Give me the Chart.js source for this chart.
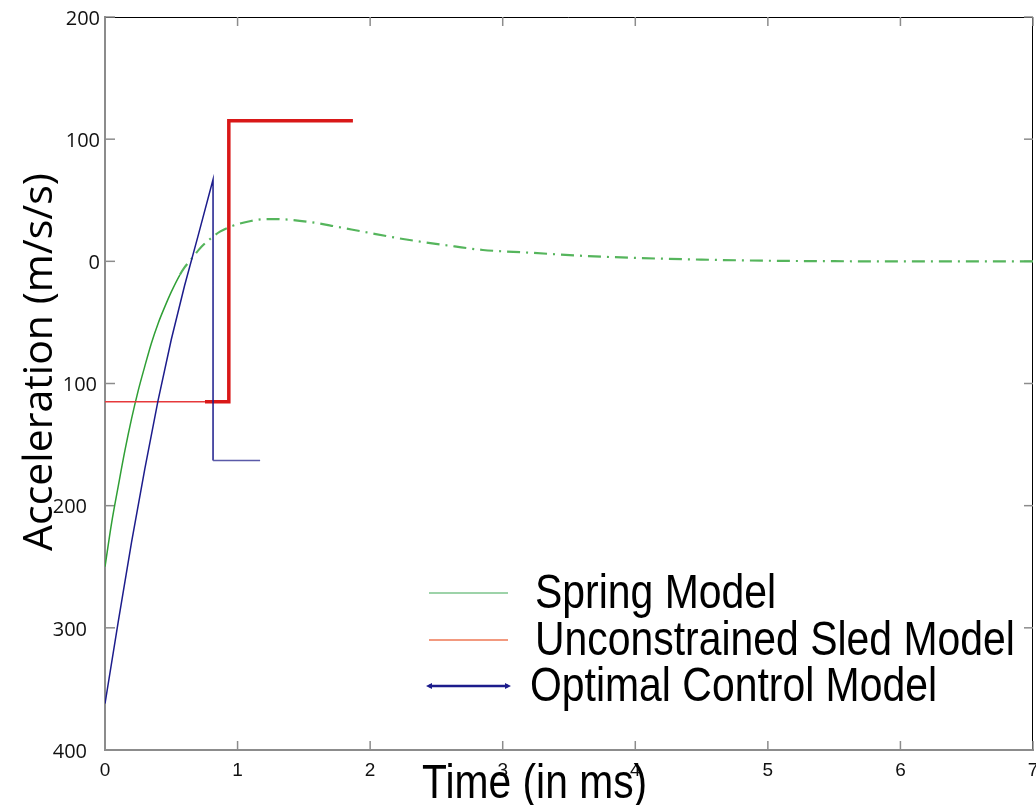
<!DOCTYPE html>
<html>
<head>
<meta charset="utf-8">
<script src="https://cdn.jsdelivr.net/npm/chart.js@4.4.0/dist/chart.umd.min.js"></script>
<style>
  html, body { margin: 0; padding: 0; background: #fff; }
  #wrap { width: 1036px; height: 805px; }
</style>
</head>
<body>
<div id="wrap"><canvas id="accelChart" width="1036" height="805"></canvas></div>
<script>
// === Data ===
const seriesLabels = ["Spring Model", "Unconstrained Sled Model", "Optimal Control Model"];

const springTime = [0, 0.05, 0.1, 0.15, 0.2, 0.25, 0.3, 0.35, 0.4, 0.45, 0.5, 0.565, 0.6, 0.666, 0.71, 0.754, 0.867, 0.96, 1.1, 1.22, 1.34, 1.557, 1.745, 1.946, 2.248, 2.65, 2.85, 3.2, 3.6, 4.0, 4.5, 5.0, 5.5, 6.0, 7.0];
const springAccel = [-250, -214, -184, -155, -129, -106, -86, -67, -51, -37.5, -25, -11, -5, 3.8, 9.8, 14.7, 24.3, 28.9, 33, 34.6, 34.4, 32, 28.4, 24.3, 18.3, 12, 9.3, 7.1, 4.5, 2.8, 1.4, 0.5, 0.1, 0, 0];

const sledTime = [0, 0.754, 0.934, 0.934, 1.87];
const sledAccel = [-115, -115, -115, 115, 115];

const optimalTime = [0, 0.1, 0.2, 0.3, 0.4, 0.5, 0.6, 0.7, 0.815, 0.815, 1.17];
const optimalAccel = [-362, -295, -230, -170, -114, -64, -20, 20, 67, -163, -163];

const xTicks = [0, 1, 2, 3, 4, 5, 6, 7];
const xTickLabels = ["0", "1", "2", "3", "4", "5", "6", "7"];
const yTicks = [200, 100, 0, -100, -200, -300, -400];
const yTickLabels = ["200", "100", "0", "100", "200", "300", "400"];

const toPoints = (xs, ys) => xs.map((t, i) => ({ x: t, y: ys[i] }));

// === Frame, inward ticks, tick labels ===
const framePlugin = {
  id: "frame",
  beforeDatasetsDraw(chart) {
    const { ctx, chartArea: a, scales } = chart;
    const line = (x1, y1, x2, y2) => {
      ctx.beginPath();
      ctx.moveTo(x1, y1);
      ctx.lineTo(x2, y2);
      ctx.stroke();
    };
    ctx.save();
    ctx.strokeStyle = "#000";
    ctx.lineWidth = 1;
    line(a.left, a.top + 0.5, a.right - 0.5, a.top + 0.5);
    line(a.right - 0.5, a.top, a.right - 0.5, a.bottom);

    ctx.strokeStyle = "#8c8c8c";
    ctx.lineWidth = 1.5;
    xTicks.forEach((v) => {
      const px = scales.x.getPixelForValue(v);
      line(px, a.bottom, px, a.bottom - 9);
      line(px, a.top, px, a.top + 9);
    });
    yTicks.forEach((v) => {
      const py = scales.y.getPixelForValue(v);
      line(a.left, py, a.left + 10, py);
      line(a.right, py, a.right - 9, py);
    });

    // y tick labels (minus signs are missing in the original)
    const labelRight = [100, 100, 100, 97, 87, 87, 87];
    ctx.fillStyle = "#111";
    ctx.font = '20px "Open Sans"';
    ctx.textAlign = "right";
    ctx.textBaseline = "middle";
    yTicks.forEach((v, i) => {
      ctx.fillText(yTickLabels[i], labelRight[i], scales.y.getPixelForValue(v) + 2);
    });

    // x tick labels
    ctx.font = '19px "Liberation Sans"';
    ctx.textAlign = "center";
    xTicks.forEach((v, i) => {
      ctx.fillText(xTickLabels[i], scales.x.getPixelForValue(v), a.bottom + 21);
    });
    ctx.restore();
  },
  afterDraw(chart) {
    const { ctx } = chart;
    ctx.save();
    ctx.fillStyle = "#000";

    // y axis title
    ctx.save();
    ctx.translate(52, 362);
    ctx.rotate(-Math.PI / 2);
    ctx.font = '41px "Open Sans"';
    ctx.textAlign = "center";
    ctx.textBaseline = "alphabetic";
    ctx.fillText("Acceleration (m/s/s)", 0, 0);
    ctx.restore();

    // x axis title (condensed face)
    ctx.save();
    ctx.translate(422, 798);
    ctx.scale(0.85, 1);
    ctx.font = '48px "Liberation Sans"';
    ctx.textAlign = "left";
    ctx.textBaseline = "alphabetic";
    ctx.fillText("Time (in ms)", 0, 0);
    ctx.restore();

    // legend inside plot
    const legendY = [593, 640, 686];
    const legendColor = ["#7cc48c", "#ee7755", "#1c1c8c"];
    const legendWidth = [1.5, 1.5, 2.5];
    const textX = [535, 535, 530];
    chart.data.datasets.forEach((ds, i) => {
      const y = legendY[i];
      ctx.strokeStyle = legendColor[i];
      ctx.lineWidth = legendWidth[i];
      ctx.beginPath();
      ctx.moveTo(429, y);
      ctx.lineTo(508, y);
      ctx.stroke();
      if (i === 2) {
        ctx.fillStyle = legendColor[i];
        ctx.beginPath();
        ctx.moveTo(426, y); ctx.lineTo(432, y - 3); ctx.lineTo(432, y + 3); ctx.closePath();
        ctx.moveTo(511, y); ctx.lineTo(505, y - 3); ctx.lineTo(505, y + 3); ctx.closePath();
        ctx.fill();
      }
      ctx.save();
      ctx.fillStyle = "#000";
      ctx.translate(textX[i], y + 15);
      ctx.scale(0.835, 1);
      ctx.font = '49px "Liberation Sans"';
      ctx.textBaseline = "alphabetic";
      ctx.fillText(ds.label, 0, 0);
      ctx.restore();
    });
    ctx.restore();
  },
};

// === Chart ===
new Chart(document.getElementById("accelChart"), {
  type: "scatter",
  data: {
    datasets: [
      {
        label: seriesLabels[0],
        data: toPoints(springTime, springAccel),
        showLine: true,
        cubicInterpolationMode: "monotone",
        borderColor: "#2f9f35",
        borderWidth: 1.5,
        pointRadius: 0,
        order: 2,
        segment: {
          borderDash: (c) => (c.p0.parsed.x >= 0.56 ? [13, 6, 2, 6] : undefined),
          borderColor: (c) => (c.p0.parsed.x >= 0.56 ? "#55b55c" : undefined),
          borderWidth: (c) => (c.p0.parsed.x >= 0.56 ? 2.2 : undefined),
        },
      },
      {
        label: seriesLabels[1],
        data: toPoints(sledTime, sledAccel),
        showLine: true,
        borderColor: "#e6393b",
        borderWidth: 1.5,
        pointRadius: 0,
        order: 1,
        segment: {
          borderWidth: (c) => (c.p0.parsed.x >= 0.7 ? 3.5 : undefined),
          borderColor: (c) => (c.p0.parsed.x >= 0.7 ? "#d91818" : undefined),
        },
      },
      {
        label: seriesLabels[2],
        data: toPoints(optimalTime, optimalAccel),
        showLine: true,
        borderColor: "#1c1c8c",
        borderWidth: 1.5,
        pointRadius: 0,
        order: 0,
        segment: {
          borderColor: (c) =>
            c.p0.parsed.y === c.p1.parsed.y ? "#5a5aa8" : undefined,
        },
      },
    ],
  },
  options: {
    responsive: false,
    animation: false,
    layout: { padding: { top: 17, right: 3, left: 0, bottom: 0 } },
    plugins: {
      legend: { display: false },
      tooltip: { enabled: false },
    },
    scales: {
      x: {
        type: "linear",
        min: 0,
        max: 7,
        afterFit: (s) => { s.height = 55; },
        grid: { display: false, drawTicks: false },
        border: { color: "#8c8c8c", width: 2 },
        ticks: { display: false },
      },
      y: {
        type: "linear",
        min: -400,
        max: 200,
        afterFit: (s) => { s.width = 105; },
        grid: { display: false, drawTicks: false },
        border: { color: "#8c8c8c", width: 2 },
        ticks: { display: false },
      },
    },
  },
  plugins: [framePlugin],
});
</script>
</body>
</html>
